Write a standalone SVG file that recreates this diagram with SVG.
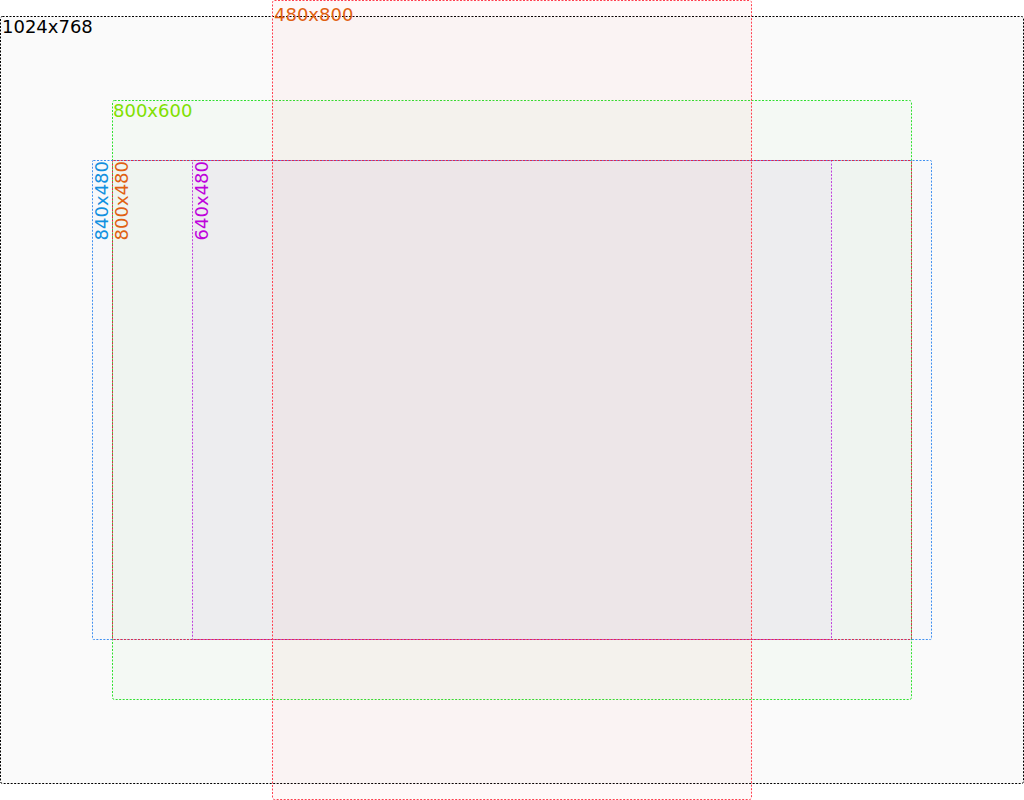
<svg xmlns="http://www.w3.org/2000/svg" width="1024" height="800" viewBox="0 0 1024 800">
<style>
rect.a{stroke-width:1;stroke-dasharray:2 1.5;}
text{font-family:"DejaVu Sans",sans-serif;font-size:18px;}
</style>
<rect x="0" y="0" width="1024" height="800" fill="#ffffff"/>
<g id="r1024x768">
<rect class="a" x="0.5" y="16.5" width="1023" height="767" rx="2" fill="#000" fill-opacity="0.02" stroke="#000"/>
<text x="2" y="33" fill="#000">1024x768</text>
</g>
<g id="r800x600">
<rect class="a" x="112.5" y="100.5" width="799" height="599" rx="2" fill="#40e040" fill-opacity="0.03" stroke="#30e030"/>
<text x="113" y="117" fill="#80e000">800x600</text>
</g>
<g id="r840x480">
<rect class="a" x="92.5" y="160.5" width="839" height="479" rx="1" fill="#4080ff" fill-opacity="0.015" stroke="#4090f0"/>
<text transform="translate(108,161) rotate(-90)" text-anchor="end" fill="#1090e0">840x480</text>
</g>
<g id="r640x480">
<rect class="a" x="192.5" y="160.5" width="639" height="479" rx="1" fill="#c040e0" fill-opacity="0.035" stroke="#c040e0"/>
<text transform="translate(208,161) rotate(-90)" text-anchor="end" fill="#c000e0">640x480</text>
</g>
<g id="r800x480">
<rect class="a" x="112.5" y="160.5" width="799" height="479" rx="1" fill="#806040" fill-opacity="0.02" stroke="#e02848"/>
<text transform="translate(128,161) rotate(-90)" text-anchor="end" fill="#e06010">800x480</text>
</g>
<g id="r480x800">
<rect class="a" x="272.5" y="0.5" width="479" height="799" rx="2" fill="#ff4040" fill-opacity="0.035" stroke="#ff4050"/>
<text x="274" y="21" fill="#e06010">480x800</text>
</g>
</svg>
